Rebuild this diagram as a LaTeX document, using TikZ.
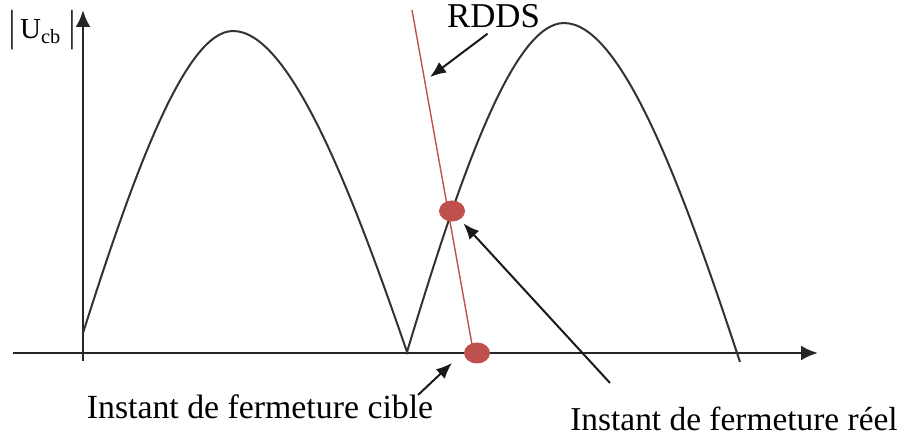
\documentclass[tikz,border=0pt]{standalone}
\usepackage{fontspec}
\setmainfont{Liberation Serif}
\usepackage{graphicx}
\usetikzlibrary{arrows.meta,shapes.geometric}
\definecolor{rddsred}{RGB}{192,80,77}
\newcommand{\vbar}{\raisebox{-1pt}{\scalebox{1}[1.5]{|}}}
\begin{document}
\begin{tikzpicture}[x=0.5pt, y=-0.5pt, >={Latex[length=8pt,width=6.5pt]},
    axis/.style={line width=1.4pt, draw=black!85, -{Latex[length=8.5pt,width=7.5pt]}},
    wave/.style={line width=1pt, draw=black!80},
    pointer/.style={->, line width=1pt, draw=black!90},
    dot/.style={ellipse, fill=rddsred, minimum width=13pt, minimum height=10.5pt, inner sep=0pt},
    txt/.style={inner sep=0pt, anchor=base}]
    \useasboundingbox (0,0) rectangle (914,437);

    % --- Assi ---
    \coordinate (xstart) at (13,353);
    \coordinate (xend) at (818,353);
    \coordinate (ybot) at (83,361);
    \coordinate (ytop) at (83,10);
    \draw[axis] (xstart) -- (xend);
    \draw[axis] (ybot) -- (ytop);
    \node[txt, anchor=base west, font=\fontsize{14.5}{16}\selectfont] (ucb) at (9,39)
        {\vbar\hspace{2.5pt}U\textsubscript{cb}\hspace{4pt}\vbar};

    % --- Tensione |Ucb| (due archi) ---
    \draw[wave] (83,333) .. controls (132.6,177) and (184.8,31) .. (233,31)
        .. controls (289,31) and (350,186) .. (407,352)
        .. controls (458,183) and (512,23) .. (564,23)
        .. controls (622,23) and (682.6,188) .. (740,362);

    % --- Retta RDDS e punti di chiusura ---
    \coordinate (rddstop) at (412,10);
    \coordinate (rddsbot) at (473,350);
    \draw[rddsred, line width=0.7pt] (rddstop) -- (rddsbot);
    \node[dot] (reel) at (452,211) {};
    \node[dot] (cible) at (477,353) {};

    % --- Etichette ---
    \node[txt, font=\fontsize{17.4}{20}\selectfont] (rdds) at (493.5,28) {RDDS};
    \node[txt, font=\fontsize{16.9}{20}\selectfont] (ciblelbl) at (260,418) {Instant de fermeture cible};
    \node[txt, font=\fontsize{16.7}{20}\selectfont] (reellbl) at (734,430) {Instant de fermeture réel};

    % --- Frecce ---
    \coordinate (rddstip) at (430,77);
    \coordinate (reeltail) at (610,383);
    \coordinate (cibletail) at (418,395);
    \coordinate (cibletip) at (452,363);
    \draw[pointer] ([xshift=-3pt,yshift=-2.5pt]rdds.south) -- (rddstip);
    \draw[pointer, shorten >=2.5pt] (reeltail) -- (reel);
    \draw[pointer] (cibletail) -- (cibletip);

\end{tikzpicture}
\end{document}
